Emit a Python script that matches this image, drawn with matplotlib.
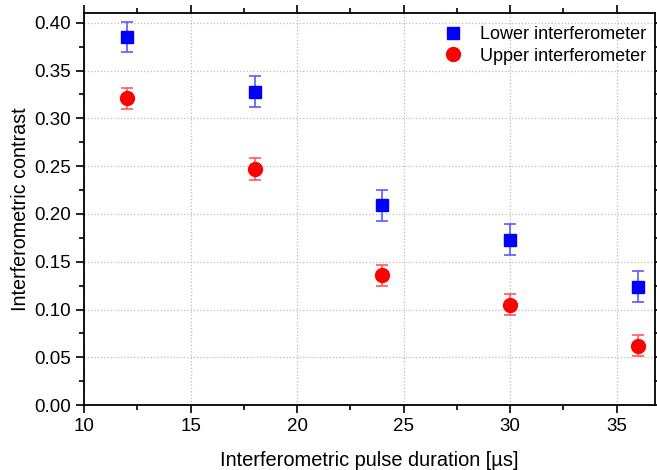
import numpy as np
import matplotlib
matplotlib.use('Agg')
from matplotlib import pyplot as plt
from matplotlib.ticker import MultipleLocator, FormatStrFormatter

plt.rcParams['font.family'] = ['Liberation Sans', 'DejaVu Sans']

# Pulse durations and measured contrast
duration = [12, 18, 24, 30, 36]
lower = [0.385, 0.328, 0.209, 0.173, 0.124]
lower_err = [0.016, 0.016, 0.016, 0.016, 0.016]
upper = [0.321, 0.247, 0.136, 0.105, 0.062]
upper_err = [0.011, 0.011, 0.011, 0.011, 0.011]

fig = plt.figure(figsize=(6.57, 4.70), dpi=100)
ax = fig.add_axes([0.128, 0.138, 0.869, 0.834])

# error bars first, markers on top (legend shows markers only)
ax.errorbar(duration, lower, yerr=lower_err, fmt='none',
            ecolor=(0.35, 0.35, 1.0), elinewidth=1.2, capsize=4, capthick=1.2, zorder=3)
ax.errorbar(duration, upper, yerr=upper_err, fmt='none',
            ecolor=(1.0, 0.35, 0.35), elinewidth=1.2, capsize=4, capthick=1.2, zorder=3)
ax.plot(duration, lower, 's', color='blue', ms=8.5, label='Lower interferometer', zorder=4)
ax.plot(duration, upper, 'o', color='red', ms=10, label='Upper interferometer', zorder=4)

ax.set_xlim(10, 36.8)
ax.set_ylim(0, 0.41)
ax.xaxis.set_major_locator(MultipleLocator(5))
ax.xaxis.set_minor_locator(MultipleLocator(2.5))
ax.yaxis.set_major_locator(MultipleLocator(0.05))
ax.yaxis.set_minor_locator(MultipleLocator(0.025))
ax.yaxis.set_major_formatter(FormatStrFormatter('%.2f'))

ax.tick_params(which='both', direction='out', top=True, right=True,
               labelsize=13.5, width=1.2, colors='black')
ax.tick_params(which='major', length=6)
ax.tick_params(which='minor', length=3.5)
for s in ax.spines.values():
    s.set_linewidth(1.3)

ax.grid(True, which='major', linestyle=':', color='#bbbbbb', linewidth=0.9)
ax.set_axisbelow(True)

ax.set_xlabel('Interferometric pulse duration [µs]', fontsize=14.4, labelpad=11)
ax.set_ylabel('Interferometric contrast', fontsize=14.2, labelpad=3)

ax.legend(loc='upper right', bbox_to_anchor=(1.0, 0.99), frameon=False, fontsize=13,
          handlelength=1.2, handletextpad=0.9, borderaxespad=0.1, labelspacing=0.25)

fig.savefig('out.png', dpi=100)
